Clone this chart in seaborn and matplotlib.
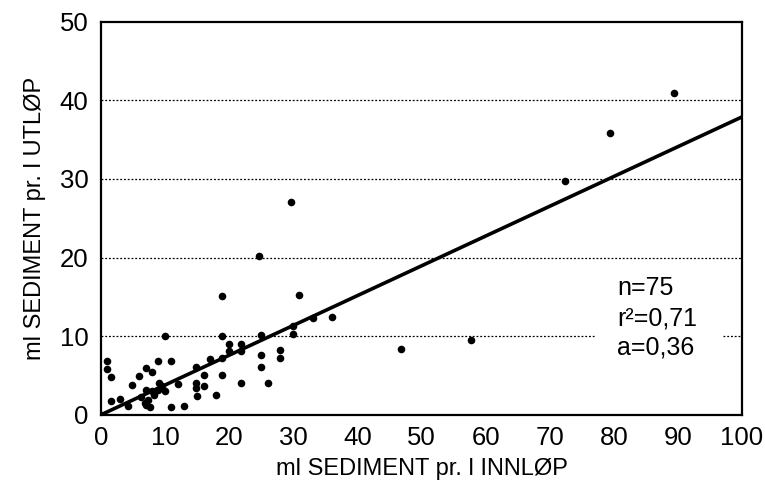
import matplotlib
matplotlib.use("Agg")
import matplotlib.pyplot as plt
import seaborn as sns
import pandas as pd

# Data
innlop = [0, 1.0, 1.0, 1.6, 1.6, 4.2, 4.9, 6.0, 7.0, 7.9, 8.9, 10.9, 10.0,
          7.1, 7.9, 8.9, 10.0, 6.3, 7.4, 7.1, 7.6, 11.0, 13.0, 12.0,
          8.2, 9.5, 6.8, 3.0, 9.0,
          14.9, 14.9, 14.9, 15.0, 16.0, 16.0, 17.0, 18.0, 18.8, 18.9, 18.8,
          18.8, 19.9, 19.9, 21.9, 21.9, 21.9, 24.6, 25.0, 25.0, 25.0, 26.1,
          27.9, 27.9, 29.7, 30.0, 30.0, 30.9, 33.0, 36.0, 46.8, 57.7, 72.4,
          79.4, 89.4]
utlop = [0, 6.8, 5.8, 4.8, 1.8, 1.1, 3.8, 4.9, 5.9, 5.4, 6.9, 6.9, 10.0,
         3.2, 3.0, 3.2, 3.0, 2.3, 1.9, 1.3, 1.0, 1.0, 1.1, 3.9,
         2.5, 3.6, 1.5, 2.0, 4.0,
         6.1, 4.0, 3.4, 2.4, 5.0, 3.6, 7.1, 2.5, 7.2, 5.0, 10.0,
         15.1, 9.0, 8.1, 9.0, 8.1, 4.0, 20.2, 10.2, 7.6, 6.1, 4.1,
         8.3, 7.2, 27.1, 11.3, 10.3, 15.3, 12.3, 12.4, 8.4, 9.5, 29.8,
         35.8, 40.9]
fit_x = [0, 100]
fit_y = [0, 37.9]
grid_levels = [20, 30, 40]
x_ticks = [0, 10, 20, 30, 40, 50, 60, 70, 80, 90, 100]
y_ticks = [0, 10, 20, 30, 40, 50]
stats_text = ["n=75", "r\u00b2=0,71", "a=0,36"]

sns.set_theme(style="white")
plt.rcParams['font.family'] = ['Liberation Sans', 'DejaVu Sans']

df = pd.DataFrame({"x": innlop, "y": utlop})
fit = pd.DataFrame({"x": fit_x, "y": fit_y})

fig = plt.figure(figsize=(7.65, 4.84), dpi=100)
ax = fig.add_axes([0.132, 0.143, 0.838, 0.812])

grid_style = dict(color="black", lw=0.9, ls=(0, (1.5, 1.5)), zorder=1)
for g in grid_levels:
    ax.axhline(g, **grid_style)
# the 10-line is interrupted by the statistics text
ax.axhline(10, xmax=0.772, **grid_style)
ax.axhline(10, xmin=0.97, **grid_style)

sns.lineplot(data=fit, x="x", y="y", ax=ax, color="black", lw=2.6, zorder=3)
sns.scatterplot(data=df, x="x", y="y", ax=ax, color="black", s=30,
                edgecolor="black", linewidth=0, zorder=4)

ax.text(80.5, 17.6, "\n".join(stats_text), fontsize=18, va="top", ha="left",
        linespacing=1.3, zorder=5, color="black")

ax.set_xlim(0, 100)
ax.set_ylim(0, 50)
ax.set_xticks(x_ticks)
ax.set_yticks(y_ticks)
ax.tick_params(axis="both", labelsize=18.5, colors="black", length=0)
ax.tick_params(axis="x", pad=8)
ax.tick_params(axis="y", pad=9)
for s in ax.spines.values():
    s.set_color("black")
    s.set_linewidth(1.6)

ax.set_xlabel("ml SEDIMENT pr. l INNLØP", fontsize=17, color="black", labelpad=6)
ax.set_ylabel("ml SEDIMENT pr. l UTLØP", fontsize=17, color="black", labelpad=10)

fig.savefig("out.png", dpi=100)
